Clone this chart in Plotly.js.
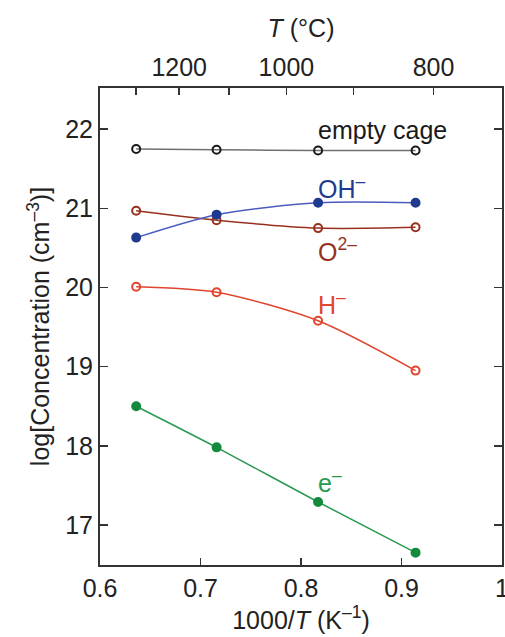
<!DOCTYPE html>
<html>
<head>
<meta charset="utf-8">
<script src="https://cdn.plot.ly/plotly-3.0.1.min.js"></script>
<style>html,body{margin:0;padding:0;background:#fff;}#chart{width:505px;height:637px;}</style>
</head>
<body>
<div id="chart"></div>
<script>
// inverse temperature, 1000/T (K^-1)
const invT = [0.636, 0.716, 0.817, 0.914];
// log concentration (cm^-3)
const emptyCage = [21.75, 21.74, 21.73, 21.73];
const OHminus   = [20.63, 20.92, 21.07, 21.07];
const O2minus   = [20.97, 20.85, 20.75, 20.76];
const Hminus    = [20.01, 19.94, 19.58, 18.95];
const eminus    = [18.50, 17.98, 17.29, 16.65];
// axis ticks
const bottomTickVals = [0.6, 0.7, 0.8, 0.9, 1.0];
const bottomTickText = ['0.6', '0.7', '0.8', '0.9', '1'];
const leftTickVals = [17, 18, 19, 20, 21, 22];
const topTickC = [1300, 1200, 1100, 1000, 900, 800];
const topTickText = ['', '1200', '', '1000', '', '800'];

const font = 'Liberation Sans, Arial, sans-serif';

function series(y, color, lineColor, filled) {
  return {
    x: invT, y: y, type: 'scatter', mode: 'lines+markers',
    line: {color: lineColor, width: 1.5, shape: 'spline', smoothing: 0.8},
    marker: {size: 8, symbol: filled ? 'circle' : 'circle-open',
             color: color, line: {color: color, width: 2}},
    showlegend: false, hoverinfo: 'skip'
  };
}

const traces = [
  series(emptyCage, '#1a1a1a', '#707070', false),
  series(O2minus, '#98301e', '#98301e', false),
  series(OHminus, '#1f3a8f', '#4a5cc0', true),
  series(Hminus, '#e0452e', '#e0452e', false),
  series(eminus, '#138a3e', '#2a9a50', true),
  {x: [0.6, 1.0], y: [null, null], xaxis: 'x2', yaxis: 'y', type: 'scatter', mode: 'lines', showlegend: false, hoverinfo: 'skip'}
];

const topTickVals = topTickC.map(c => 1000 / (c + 273.15));

const ann = (x, y, text, color) => ({
  x: x, y: y, xref: 'x', yref: 'y', text: text, showarrow: false,
  xanchor: 'left', yanchor: 'middle',
  font: {family: font, size: 25, color: color}
});

const tf = {family: font, size: 25, color: '#222'};

const layout = {
  width: 505, height: 637,
  margin: {l: 100, r: 3, t: 88, b: 72, pad: 0},
  paper_bgcolor: '#fff', plot_bgcolor: '#fff',
  font: {family: font, size: 25, color: '#222'},
  xaxis: {
    range: [0.6, 1.0], tickvals: bottomTickVals, ticktext: bottomTickText,
    ticks: 'inside', ticklen: 7, tickwidth: 1.5, tickcolor: '#333',
    showline: true, linecolor: '#333', linewidth: 2, mirror: false,
    showgrid: false, zeroline: false, ticklabeloverflow: 'allow',
    tickfont: tf,
    title: {text: '1000/<i>T</i> (K<sup>–1</sup>)', font: tf, standoff: 6}
  },
  xaxis2: {
    range: [0.6, 1.0], overlaying: 'x', side: 'top', anchor: 'y',
    tickvals: topTickVals, ticktext: topTickText,
    ticks: 'inside', ticklen: 7, tickwidth: 1.5, tickcolor: '#333',
    showline: true, linecolor: '#333', linewidth: 2,
    showgrid: false, zeroline: false,
    tickfont: tf,
    title: {text: '<i>T</i> (°C)', font: tf, standoff: 8}
  },
  yaxis: {
    range: [16.494, 22.52], tickvals: leftTickVals,
    ticks: 'inside', ticklen: 8, tickwidth: 1.5, tickcolor: '#333',
    showline: true, linecolor: '#333', linewidth: 2, mirror: 'ticks',
    showgrid: false, zeroline: false,
    tickfont: tf,
    title: {text: 'log[Concentration (cm<sup>–3</sup>)]', font: tf, standoff: 8}
  },
  annotations: [
    ann(0.815, 21.99, 'empty cage', '#1a1a1a'),
    ann(0.815, 21.27, 'OH<sup>–</sup>', '#1f3a8f'),
    ann(0.815, 20.47, 'O<sup>2–</sup>', '#98301e'),
    ann(0.815, 19.81, 'H<sup>–</sup>', '#e0452e'),
    ann(0.815, 17.55, 'e<sup>–</sup>', '#2a9a50')
  ]
};

Plotly.newPlot('chart', traces, layout, {staticPlot: true, displayModeBar: false});
</script>
</body>
</html>
